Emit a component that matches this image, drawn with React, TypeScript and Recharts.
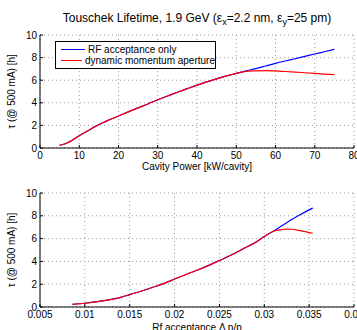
import { LineChart, Line, XAxis, YAxis, CartesianGrid, Legend } from "recharts";

// top panel: lifetime vs cavity power
const power = [5, 6, 7, 8, 9, 10, 11, 12, 13, 14, 16, 18, 20, 22.5, 25, 27.5, 30, 32.5, 35, 37.5, 40, 42.5, 45, 47.5, 50, 52, 55, 57.5, 60, 62.5, 65, 67.5, 70, 72.5, 75];
const tauRfPower = [0.24, 0.33, 0.47, 0.65, 0.86, 1.09, 1.29, 1.48, 1.69, 1.89, 2.24, 2.54, 2.83, 3.2, 3.55, 3.9, 4.27, 4.6, 4.93, 5.25, 5.57, 5.85, 6.12, 6.38, 6.6, 6.78, 7.03, 7.26, 7.49, 7.7, 7.9, 8.11, 8.32, 8.52, 8.73];
const tauDynPower = [0.24, 0.33, 0.47, 0.65, 0.86, 1.09, 1.29, 1.48, 1.69, 1.89, 2.24, 2.54, 2.83, 3.2, 3.55, 3.9, 4.27, 4.6, 4.93, 5.25, 5.57, 5.85, 6.12, 6.38, 6.6, 6.76, 6.83, 6.85, 6.82, 6.77, 6.72, 6.66, 6.6, 6.54, 6.49];

// bottom panel: lifetime vs rf acceptance
const acceptance = [0.0086, 0.01, 0.011, 0.0125, 0.014, 0.015, 0.0165, 0.0175, 0.019, 0.02, 0.0215, 0.0225, 0.024, 0.025, 0.0265, 0.0275, 0.029, 0.03, 0.031, 0.032, 0.0325, 0.033, 0.034, 0.035, 0.0354];
const tauRfAcc = [0.24, 0.33, 0.42, 0.6, 0.85, 1.09, 1.45, 1.71, 2.12, 2.45, 2.92, 3.22, 3.72, 4.08, 4.62, 5.05, 5.65, 6.18, 6.65, 7.15, 7.4, 7.65, 8.1, 8.52, 8.68];
const tauDynAcc = [0.24, 0.33, 0.42, 0.6, 0.85, 1.09, 1.45, 1.71, 2.12, 2.45, 2.92, 3.22, 3.72, 4.08, 4.62, 5.05, 5.65, 6.18, 6.65, 6.8, 6.83, 6.82, 6.7, 6.53, 6.47];

const powerTicks = [0, 10, 20, 30, 40, 50, 60, 70, 80];
const accTicks = [0.005, 0.01, 0.015, 0.02, 0.025, 0.03, 0.035, 0.04];
const tauTicks = [0, 2, 4, 6, 8, 10];

const seriesNames = ["RF acceptance only", "dynamic momentum aperture"];

const FONT = "'Liberation Sans', Arial, Helvetica, sans-serif";
const tickStyle = { fill: "#000", fontSize: 10 };
const yLabel = "τ (@ 500 mA) [h]";

const powerRows = power.map((x, i) => ({ x, rf: tauRfPower[i], dyn: tauDynPower[i] }));
const accRows = acceptance.map((x, i) => ({ x, rf: tauRfAcc[i], dyn: tauDynAcc[i] }));

function LegendBox({ payload }: any) {
  return (
    <div style={{ border: "1px solid #000", background: "#fff", width: 161, height: 28, boxSizing: "border-box", padding: "2px 0 0 5px", fontSize: 10, fontFamily: FONT }}>
      {(payload || []).map((p: any) => (
        <div key={p.value} style={{ display: "flex", alignItems: "center", height: 11.3, whiteSpace: "nowrap" }}>
          <span style={{ display: "inline-block", width: 24, borderTop: `1.3px solid ${p.color}`, marginRight: 3 }} />
          <span>{p.value}</span>
        </div>
      ))}
    </div>
  );
}

function Panel({ rows, domain, ticks, xLabel, top, height, marginTop, axisHeight, labelOffset, legend }: any) {
  return (
    <div style={{ position: "absolute", left: 0, top }}>
      <LineChart width={357} height={height} data={rows} margin={{ top: marginTop, right: 3, bottom: 0, left: 0 }}>
        <CartesianGrid stroke="#999" strokeDasharray="1 3" />
        <XAxis
          dataKey="x"
          type="number"
          domain={domain}
          ticks={ticks}
          interval={0}
          height={axisHeight}
          stroke="#000"
          tickSize={-3}
          tickMargin={7}
          tick={tickStyle}
          label={{ value: xLabel, position: "insideBottom", offset: labelOffset, fill: "#000", fontSize: 10 }}
        />
        <XAxis xAxisId="top" orientation="top" dataKey="x" type="number" domain={domain} ticks={ticks} interval={0} height={0} stroke="#000" tickSize={-3} tick={false} />
        <YAxis
          type="number"
          domain={[0, 10]}
          ticks={tauTicks}
          interval={0}
          width={40}
          stroke="#000"
          tickSize={-3}
          tickMargin={6}
          tick={tickStyle}
          label={{ value: yLabel, angle: -90, position: "insideLeft", offset: 11, fill: "#000", fontSize: 10, style: { textAnchor: "middle" } }}
        />
        <YAxis yAxisId="right" orientation="right" type="number" domain={[0, 10]} ticks={tauTicks} interval={0} width={0} stroke="#000" tickSize={-3} tick={false} />
        <Line dataKey="rf" name={seriesNames[0]} stroke="#0000ff" strokeWidth={1.2} dot={false} type="monotone" isAnimationActive={false} />
        <Line dataKey="dyn" name={seriesNames[1]} stroke="#ff0000" strokeWidth={1.2} dot={false} type="monotone" isAnimationActive={false} />
        {legend && (
          <Legend layout="vertical" align="center" verticalAlign="middle" wrapperStyle={{ left: 55, top: 41, width: "auto" }} content={<LegendBox />} />
        )}
      </LineChart>
    </div>
  );
}

export default function App() {
  return (
    <div style={{ position: "absolute", left: 0, top: 0, width: 357, height: 330, background: "#fff", fontFamily: FONT }}>
      <svg width={357} height={30} style={{ position: "absolute", left: 0, top: 0 }}>
        <text x={197} y={22} textAnchor="middle" fontSize={12} fill="#000" fontFamily={FONT}>
          Touschek Lifetime, 1.9 GeV (ε
          <tspan dy={3} fontSize={9}>x</tspan>
          <tspan dy={-3}>=2.2 nm, ε</tspan>
          <tspan dy={3} fontSize={9}>y</tspan>
          <tspan dy={-3}>=25 pm)</tspan>
        </text>
      </svg>
      <Panel rows={powerRows} domain={[0, 80]} ticks={powerTicks} xLabel="Cavity Power [kW/cavity]" top={0} height={174} marginTop={35} axisHeight={26} labelOffset={4} legend />
      <Panel rows={accRows} domain={[0.005, 0.04]} ticks={accTicks} xLabel="Rf acceptance Δ p/p" top={170} height={161} marginTop={23} axisHeight={24} labelOffset={0} />
    </div>
  );
}
